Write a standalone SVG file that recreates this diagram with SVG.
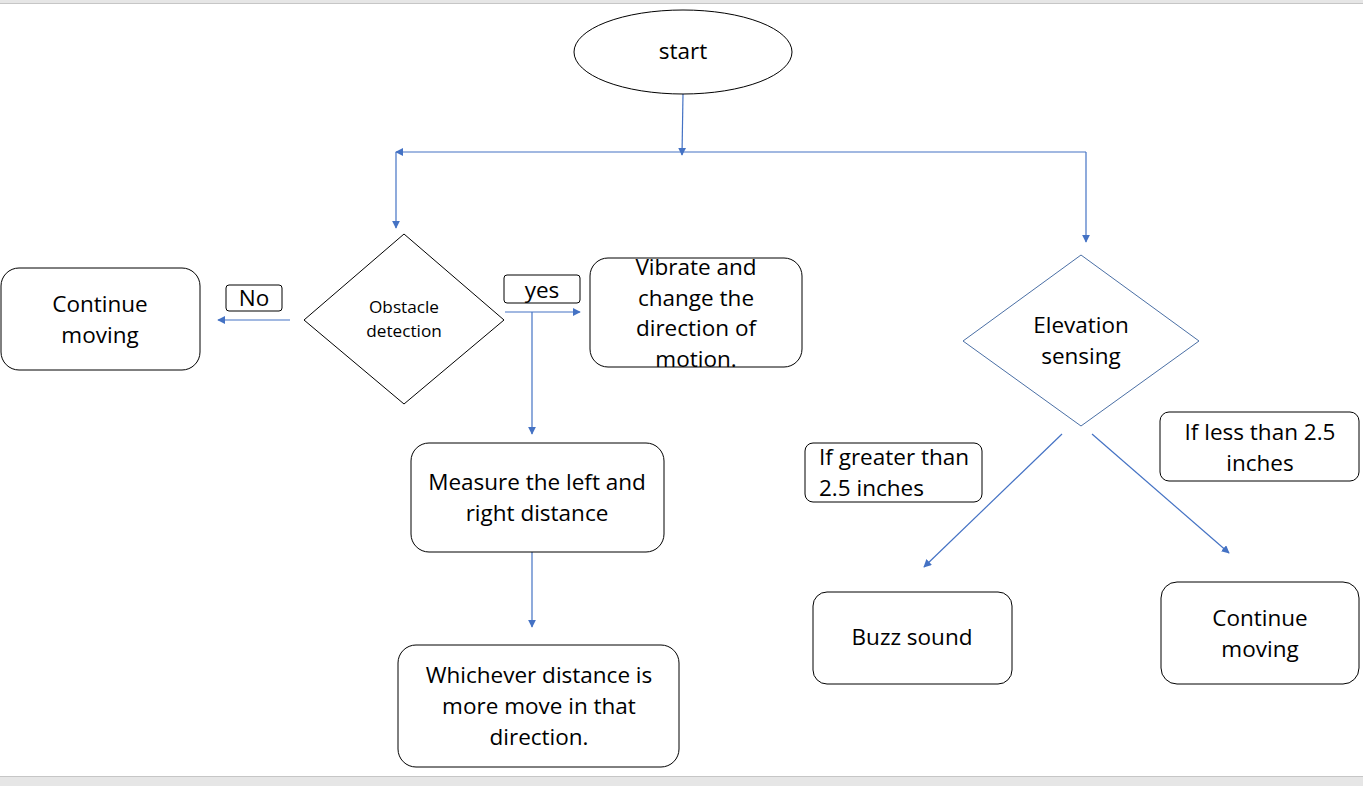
<svg xmlns="http://www.w3.org/2000/svg" width="1363" height="786" viewBox="0 0 1363 786">
<style>
.t{font-family:"Open Sans",Lato,"Liberation Sans",sans-serif;font-size:22.5px;fill:#000;text-anchor:middle}
.s{font-size:17.2px}
.box{fill:#fff;stroke:#000;stroke-width:1}
.c{fill:none;stroke:#4472c4;stroke-width:1.2}
</style>
<defs>
<marker id="ah" viewBox="0 0 10 10" refX="9" refY="5" markerWidth="8" markerHeight="8" markerUnits="userSpaceOnUse" orient="auto">
<path d="M0,0 L10,5 L0,10 z" fill="#4472c4"/>
</marker>
</defs>
<rect x="0" y="0" width="1363" height="786" fill="#fff"/>
<rect x="0" y="0" width="1363" height="3" fill="#e6e6e6"/>
<line x1="0" y1="3.5" x2="1363" y2="3.5" stroke="#c6c6c6" stroke-width="1"/>
<rect x="0" y="777" width="1363" height="9" fill="#e6e6e6"/>
<line x1="0" y1="776.5" x2="1363" y2="776.5" stroke="#c6c6c6" stroke-width="1"/>

<g id="connectors">
<line class="c" x1="683" y1="94" x2="682" y2="155" marker-end="url(#ah)"/>
<line class="c" x1="1086" y1="152" x2="396" y2="152" marker-end="url(#ah)"/>
<line class="c" x1="396" y1="152" x2="396" y2="228" marker-end="url(#ah)"/>
<polyline class="c" points="1086,152 1086,242" marker-end="url(#ah)"/>
<line class="c" x1="290" y1="320" x2="218" y2="320" marker-end="url(#ah)"/>
<line class="c" x1="505" y1="312" x2="580" y2="312" marker-end="url(#ah)"/>
<line class="c" x1="532" y1="312" x2="532" y2="434" marker-end="url(#ah)"/>
<line class="c" x1="532" y1="552" x2="532" y2="627" marker-end="url(#ah)"/>
<line class="c" x1="1062" y1="434" x2="924" y2="567" marker-end="url(#ah)"/>
<line class="c" x1="1092" y1="434" x2="1229" y2="553" marker-end="url(#ah)"/>
</g>

<g id="start">
<ellipse class="box" cx="683" cy="52" rx="109" ry="42"/>
<text class="t" x="683" y="59">start</text>
</g>

<g id="obstacle">
<polygon class="box" points="404,234 504,320 404,404 304,320"/>
<text class="t s" x="404" y="313">Obstacle</text>
<text class="t s" x="404" y="337">detection</text>
</g>

<g id="label-no">
<rect class="box" x="226" y="285" width="56" height="26" rx="3"/>
<text class="t" x="254" y="306">No</text>
</g>

<g id="label-yes">
<rect class="box" x="504" y="275" width="76" height="28" rx="3"/>
<text class="t" x="542" y="298">yes</text>
</g>

<g id="continue-left">
<rect class="box" x="1" y="268" width="199" height="102" rx="18"/>
<text class="t" x="100" y="312">Continue</text>
<text class="t" x="100" y="343">moving</text>
</g>

<g id="vibrate">
<rect class="box" x="590" y="258" width="212" height="109" rx="18"/>
<text class="t" x="696" y="275">Vibrate and</text>
<text class="t" x="696" y="306">change the</text>
<text class="t" x="696" y="336">direction of</text>
<text class="t" x="696" y="367">motion.</text>
</g>

<g id="measure">
<rect class="box" x="411" y="443" width="253" height="109" rx="18"/>
<text class="t" x="537" y="490">Measure the left and</text>
<text class="t" x="537" y="521">right distance</text>
</g>

<g id="whichever">
<rect class="box" x="398" y="645" width="281" height="122" rx="18"/>
<text class="t" x="539" y="683">Whichever distance is</text>
<text class="t" x="539" y="714">more move in that</text>
<text class="t" x="539" y="745">direction.</text>
</g>

<g id="elevation">
<polygon points="1081,255 1199,341 1081,426 963,341" fill="#fff" stroke="#4a6fa5" stroke-width="1"/>
<text class="t" x="1081" y="333">Elevation</text>
<text class="t" x="1081" y="364">sensing</text>
</g>

<g id="label-greater">
<rect class="box" x="805" y="443" width="177" height="59" rx="8"/>
<text class="t" x="819" y="465" style="text-anchor:start">If greater than</text>
<text class="t" x="819" y="496" style="text-anchor:start">2.5 inches</text>
</g>

<g id="label-less">
<rect class="box" x="1160" y="412" width="199" height="69" rx="9"/>
<text class="t" x="1260" y="440">If less than 2.5</text>
<text class="t" x="1260" y="471">inches</text>
</g>

<g id="buzz">
<rect class="box" x="813" y="592" width="199" height="92" rx="14"/>
<text class="t" x="912" y="645">Buzz sound</text>
</g>

<g id="continue-right">
<rect class="box" x="1161" y="582" width="198" height="102" rx="16"/>
<text class="t" x="1260" y="626">Continue</text>
<text class="t" x="1260" y="657">moving</text>
</g>
</svg>
